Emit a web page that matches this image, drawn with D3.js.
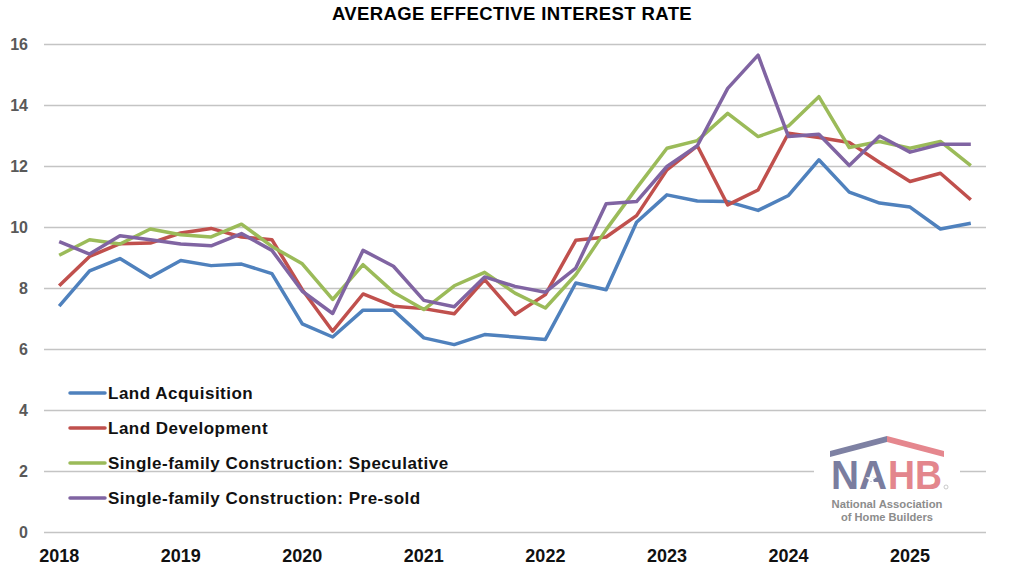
<!DOCTYPE html>
<html>
<head>
<meta charset="utf-8">
<script src="https://cdn.jsdelivr.net/npm/d3@7"></script>
<style>
  body { margin: 0; background: #fff; }
  svg { display: block; font-family: "Liberation Sans", Arial, sans-serif; }
</style>
</head>
<body>
<div id="chart"></div>
<script>
const width = 1024;
const height = 581;

// quarterly, 2018 Q1 .. 2025 Q3
const quarters = d3.range(31).map(i => `${2018 + Math.floor(i / 4)}Q${i % 4 + 1}`);
const years = ['2018', '2019', '2020', '2021', '2022', '2023', '2024', '2025'];
const yTicks = [0, 2, 4, 6, 8, 10, 12, 14, 16];

const seriesNames = [
  'Land Acquisition',
  'Land Development',
  'Single-family Construction: Speculative',
  'Single-family Construction: Pre-sold'
];
const landAcquisition = [7.42, 8.58, 8.98, 8.37, 8.92, 8.75, 8.80, 8.49, 6.84, 6.41, 7.29, 7.29,
  6.38, 6.16, 6.49, 6.41, 6.33, 8.18, 7.96, 10.17, 11.07, 10.87, 10.85, 10.56,
  11.05, 12.22, 11.16, 10.80, 10.67, 9.95, 10.14];
const landDevelopment = [8.09, 9.05, 9.47, 9.49, 9.82, 9.97, 9.69, 9.60, 7.96, 6.60, 7.82, 7.42,
  7.34, 7.17, 8.29, 7.15, 7.80, 9.58, 9.69, 10.39, 11.89, 12.68, 10.74, 11.23,
  13.09, 12.95, 12.79, 12.13, 11.51, 11.78, 10.91];
const speculative = [9.09, 9.60, 9.46, 9.95, 9.76, 9.69, 10.11, 9.38, 8.81, 7.64, 8.78, 7.88,
  7.31, 8.09, 8.53, 7.85, 7.36, 8.45, 9.93, 11.29, 12.60, 12.85, 13.74, 12.98,
  13.33, 14.29, 12.62, 12.82, 12.60, 12.82, 12.03];
const preSold = [9.54, 9.13, 9.73, 9.60, 9.46, 9.40, 9.80, 9.25, 7.91, 7.18, 9.25, 8.73,
  7.61, 7.40, 8.38, 8.07, 7.88, 8.67, 10.78, 10.85, 12.00, 12.68, 14.56, 15.65,
  12.98, 13.06, 12.03, 13.00, 12.47, 12.73, 12.73];
const seriesValues = [landAcquisition, landDevelopment, speculative, preSold];
const seriesColors = ['#4f81bd', '#c0504d', '#9bbb59', '#8064a2'];

const svg = d3.select('#chart').append('svg')
  .attr('width', width)
  .attr('height', height);

const xScale = d3.scaleLinear()
  .domain([-0.5, quarters.length - 0.5])
  .range([44, 986]);

const yScale = d3.scaleLinear()
  .domain([0, 16])
  .range([532.5, 44.5]);

// title
svg.append('text')
  .attr('x', 512)
  .attr('y', 20)
  .attr('text-anchor', 'middle')
  .attr('font-size', 18.5)
  .attr('font-weight', 'bold')
  .attr('letter-spacing', 0.4)
  .attr('fill', '#000')
  .text('AVERAGE EFFECTIVE INTEREST RATE');

// gridlines
svg.append('g').selectAll('line').data(yTicks)
  .enter().append('line')
  .attr('x1', xScale.range()[0])
  .attr('x2', xScale.range()[1])
  .attr('y1', d => yScale(d))
  .attr('y2', d => yScale(d))
  .attr('stroke', '#c4c4c4')
  .attr('stroke-width', 1.5);

// y labels
svg.append('g').selectAll('text').data(yTicks)
  .enter().append('text')
  .attr('x', 28)
  .attr('y', d => yScale(d))
  .attr('dy', '0.35em')
  .attr('text-anchor', 'end')
  .attr('font-size', 16)
  .attr('font-weight', 'bold')
  .attr('fill', '#595959')
  .text(d => d);

// x labels at each year's first quarter
svg.append('g').selectAll('text').data(years)
  .enter().append('text')
  .attr('x', (d, i) => xScale(i * 4))
  .attr('y', 562)
  .attr('text-anchor', 'middle')
  .attr('font-size', 18)
  .attr('font-weight', 'bold')
  .attr('fill', '#111')
  .text(d => d);

// NAHB logo (white box interrupts gridline)
const logo = svg.append('g');
logo.append('rect')
  .attr('x', 814).attr('y', 432).attr('width', 146).attr('height', 92)
  .attr('fill', '#fff');
logo.append('path')
  .attr('d', 'M830,451 L887,436 L887,442 L830,457 Z')
  .attr('fill', '#7e81a3');
logo.append('path')
  .attr('d', 'M887,436 L944,451 L944,457 L887,442 Z')
  .attr('fill', '#e5878e');
logo.append('text')
  .attr('x', 831).attr('y', 489)
  .attr('font-size', 40)
  .attr('font-weight', 'bold')
  .attr('fill', '#7a7d9f')
  .attr('textLength', 56)
  .attr('lengthAdjust', 'spacingAndGlyphs')
  .text('NA');
logo.append('text')
  .attr('x', 888).attr('y', 489)
  .attr('font-size', 40)
  .attr('font-weight', 'bold')
  .attr('fill', '#e3868d')
  .attr('textLength', 54)
  .attr('lengthAdjust', 'spacingAndGlyphs')
  .text('HB');
// star in the A
const star = d3.symbol().type(d3.symbolStar).size(38);
logo.append('path')
  .attr('d', star())
  .attr('transform', 'translate(871, 479)')
  .attr('fill', '#fff');
logo.append('circle')
  .attr('cx', 946).attr('cy', 487).attr('r', 2)
  .attr('fill', 'none')
  .attr('stroke', '#b5b5b5')
  .attr('stroke-width', 0.7);
logo.append('text')
  .attr('x', 887).attr('y', 508)
  .attr('text-anchor', 'middle')
  .attr('font-size', 11)
  .attr('font-weight', 'bold')
  .attr('fill', '#8c8c8c')
  .attr('textLength', 111)
  .attr('lengthAdjust', 'spacingAndGlyphs')
  .text('National Association');
logo.append('text')
  .attr('x', 887).attr('y', 521)
  .attr('text-anchor', 'middle')
  .attr('font-size', 11)
  .attr('font-weight', 'bold')
  .attr('fill', '#8c8c8c')
  .attr('textLength', 92)
  .attr('lengthAdjust', 'spacingAndGlyphs')
  .text('of Home Builders');

// lines
const line = d3.line()
  .x((d, i) => xScale(i))
  .y(d => yScale(d));

svg.append('g').selectAll('path').data(seriesValues)
  .enter().append('path')
  .attr('d', d => line(d))
  .attr('fill', 'none')
  .attr('stroke', (d, i) => seriesColors[i])
  .attr('stroke-width', 3.5)
  .attr('stroke-linejoin', 'round');

// legend
const legend = svg.append('g').selectAll('g').data(seriesNames)
  .enter().append('g')
  .attr('transform', (d, i) => `translate(70, ${393 + i * 35})`);

legend.append('line')
  .attr('x1', 0).attr('x2', 35)
  .attr('stroke', (d, i) => seriesColors[i])
  .attr('stroke-width', 3.5)
  .attr('stroke-linecap', 'round');

legend.append('text')
  .attr('x', 38)
  .attr('dy', '0.35em')
  .attr('font-size', 17)
  .attr('font-weight', 'bold')
  .attr('letter-spacing', 0.5)
  .attr('fill', '#111')
  .text(d => d);
</script>
</body>
</html>
